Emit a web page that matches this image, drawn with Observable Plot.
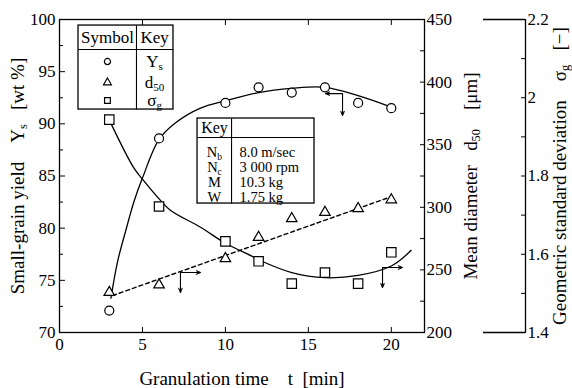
<!DOCTYPE html>
<html><head><meta charset="utf-8">
<script src="https://cdn.jsdelivr.net/npm/d3@7"></script>
<script src="https://cdn.jsdelivr.net/npm/@observablehq/plot@0.6"></script>
<style>
body{margin:0;background:#fff}
#chart svg{display:block;font-family:"Liberation Serif","DejaVu Serif",serif !important}
#chart svg text{font-family:"Liberation Serif","DejaVu Serif",serif !important}
</style></head><body><div id="chart"></div>
<script>
// measured points
const times = [3, 6, 10, 12, 14, 16, 18, 20];
const yieldYs = [72.1, 88.6, 92.0, 93.5, 93.0, 93.5, 92.0, 91.5];
const diameterD50 = [232, 238, 259, 276, 291, 296, 299, 306];
const sigmaG = [1.944, 1.722, 1.633, 1.582, 1.525, 1.553, 1.525, 1.605];

// fitted curves
const ysCurveT = [3.1, 3.5, 4, 4.5, 5, 6, 7, 8.5, 10, 12, 14, 16, 18, 20];
const ysCurveV = [73.3, 76.8, 79.8, 82.6, 84.8, 88.5, 90.1, 91.5, 92.2, 93.0, 93.4, 93.5, 92.7, 91.6];
const d50LineT = [3.2, 20];
const d50LineV = [229.5, 308.5];
const sgCurveT = [3.07, 4.46, 5, 6.1, 6.7, 8.5, 10, 11.5, 12, 14, 16, 18, 20, 21.2];
const sgCurveV = [1.937, 1.822, 1.792, 1.737, 1.712, 1.669, 1.628, 1.597, 1.586, 1.553, 1.540, 1.546, 1.570, 1.610];

// ticks
const xTicks = [0, 5, 10, 15, 20];
const xTopTicks = [5, 10, 15, 20];
const ysTicks = [70, 75, 80, 85, 90, 95, 100];
const ysMinor = [72.5, 77.5, 82.5, 87.5, 92.5, 97.5];
const d50Ticks = [200, 250, 300, 350, 400, 450];
const d50Minor = [225, 275, 325, 375, 425];
const sgTicks = [1.4, 1.6, 1.8, 2.0, 2.2];
const sgMinor = [1.5, 1.7, 1.9, 2.1];

// legend / key texts
const legendSymbols = ["circle", "triangle", "square"];
const legendKeys = ["Y_s", "d_50", "σ_g"];
const keyParams = ["N_b", "N_c", "M", "W"];
const keyValues = ["8.0 m/sec", "3 000 rpm", "10.3 kg", "1.75 kg"];

// titles
const NB = "\u00a0";
const xTitle = "Granulation time" + NB.repeat(4) + "t" + NB.repeat(2) + "[min]";
const ysTitle = "Small-grain yield" + NB.repeat(4) + "Y_s" + NB.repeat(3) + "[wt %]";
const d50Title = "Mean diameter" + NB.repeat(3) + "d_50" + NB.repeat(4) + "[μm]";
const sgTitle = "Geometric standard deviation" + NB.repeat(4) + "σ_g" + NB.repeat(3) + "[−]";

// secondary scales mapped onto the primary (Ys) scale
const fromD50 = d => 70 + (d - 200) * 30 / 250;
const toD50 = v => 200 + (v - 70) * 250 / 30;
const fromSg = s => 70 + (s - 1.4) * 30 / 0.8;
const toSg = v => 1.4 + (v - 70) * 0.8 / 30;

const rows = times.map((t, i) => ({t, ys: yieldYs[i], d: diameterD50[i], s: sigmaG[i]}));
const ysCurve = ysCurveT.map((t, i) => ({t, v: ysCurveV[i]}));
const d50Line = d50LineT.map((t, i) => ({t, v: fromD50(d50LineV[i])}));
const sgCurve = sgCurveT.map((t, i) => ({t, v: fromSg(sgCurveV[i])}));

// annotation layout in data coordinates (t, Ys)
const box1 = {x1: 1.145, x2: 6.87, y1: 91.37, y2: 99.42, head: 97.12, div: 4.64, symX: 2.89, keyX: 5.73, headY: 98.25, rowsY: [95.97, 93.96, 92.24]};
const box2 = {x1: 8.32, x2: 15.37, y1: 82.36, y2: 90.51, head: 88.69, div: 10.37, labX: 9.34, valX: 10.85, headY: 89.62, rowsY: [87.3, 85.85, 84.4, 83.0]};
const arrows = [
  {x1: 17.06, y1: 92.9, x2: 16.03, y2: 92.9},
  {x1: 17.06, y1: 92.9, x2: 17.06, y2: 90.8},
  {x1: 7.29, y1: 75.75, x2: 8.5, y2: 75.75},
  {x1: 7.29, y1: 75.75, x2: 7.29, y2: 73.84},
  {x1: 19.47, y1: 76.23, x2: 20.67, y2: 76.23},
  {x1: 19.47, y1: 76.23, x2: 19.47, y2: 74.31}
];

const FONT = "'Liberation Serif', 'DejaVu Serif', serif";
const fmtSg = v => String(+toSg(v).toFixed(1));

const plot = Plot.plot({
  width: 572, height: 388,
  marginLeft: 59, marginRight: 148, marginTop: 19, marginBottom: 56,
  style: {fontFamily: FONT, fontSize: "17px", color: "black", background: "white"},
  x: {domain: [0, 22]},
  y: {domain: [70, 100]},
  marks: [
    Plot.frame({stroke: "black", strokeWidth: 1.3}),
    // bottom axis
    Plot.axisX(xTicks, {anchor: "bottom", tickSize: -5, tickPadding: 10, label: null, fontSize: 17}),
    Plot.axisX(xTopTicks, {anchor: "top", tickSize: -5, fill: "none", label: null}),
    // left axis
    Plot.axisY(ysTicks, {anchor: "left", tickSize: -6, tickPadding: 10, label: null, fontSize: 17}),
    Plot.axisY(ysMinor, {anchor: "left", tickSize: -4, fill: "none", label: null}),
    // d50 axis
    Plot.axisY(d50Ticks.map(fromD50), {anchor: "right", tickSize: -5, tickPadding: 7, label: null, fontSize: 17, tickFormat: v => String(Math.round(toD50(v)))}),
    Plot.axisY(d50Minor.map(fromD50), {anchor: "right", tickSize: -5, fill: "none", label: null}),
    // sigma_g axis
    Plot.ruleX([22], {dx: 101, strokeWidth: 1.3}),
    Plot.ruleY([fromSg(2.2), fromSg(1.4)], {dx: 101, insetLeft: 323, strokeWidth: 1.3}),
    Plot.axisY(sgTicks.map(fromSg), {anchor: "right", dx: 101, tickSize: -5, tickPadding: 7, label: null, fontSize: 17, tickFormat: fmtSg}),
    Plot.axisY(sgMinor.map(fromSg), {anchor: "right", dx: 101, tickSize: -5, fill: "none", label: null}),
    // titles
    Plot.text([xTitle], {frameAnchor: "bottom", dy: 46, fontSize: 19, lineAnchor: "middle", textAnchor: "middle"}),
    Plot.text([ysTitle], {frameAnchor: "left", dx: -42, rotate: -90, fontSize: 19, lineAnchor: "middle", textAnchor: "middle"}),
    Plot.text([d50Title], {frameAnchor: "right", dx: 46, rotate: -90, fontSize: 19, lineAnchor: "middle", textAnchor: "middle"}),
    Plot.text([sgTitle], {frameAnchor: "right", dx: 135, rotate: -90, fontSize: 19, lineAnchor: "middle", textAnchor: "middle"}),
    // curves
    Plot.line(ysCurve, {x: "t", y: "v", curve: "catmull-rom", stroke: "black", strokeWidth: 1.3}),
    Plot.line(d50Line, {x: "t", y: "v", stroke: "black", strokeWidth: 1.4, strokeDasharray: "4,3"}),
    Plot.line(sgCurve, {x: "t", y: "v", curve: "catmull-rom", stroke: "black", strokeWidth: 1.3}),
    // arrows
    Plot.arrow(arrows, {x1: "x1", y1: "y1", x2: "x2", y2: "y2", stroke: "black", strokeWidth: 1.1, headLength: 6, headAngle: 45}),
    // points
    Plot.dot(rows, {x: "t", y: "ys", symbol: "circle", r: 4.5, stroke: "black", fill: "white", strokeWidth: 1.2}),
    Plot.dot(rows, {x: "t", y: d => fromD50(d.d), symbol: "triangle", r: 3.9, stroke: "black", fill: "white", strokeWidth: 1.2}),
    Plot.dot(rows, {x: "t", y: d => fromSg(d.s), symbol: "square", r: 5.3, stroke: "black", fill: "white", strokeWidth: 1.2}),
    // legend box 1
    Plot.rect([box1], {x1: "x1", x2: "x2", y1: "y1", y2: "y2", fill: "white", stroke: "black", strokeWidth: 1.3}),
    Plot.link([box1], {x1: "x1", x2: "x2", y1: "head", y2: "head", stroke: "black", strokeWidth: 1.1}),
    Plot.link([box1], {x1: "div", x2: "div", y1: "y1", y2: "y2", stroke: "black", strokeWidth: 1.1}),
    Plot.text(["Symbol"], {x: box1.symX, y: box1.headY, fontSize: 17}),
    Plot.text(["Key"], {x: box1.keyX, y: box1.headY, fontSize: 17}),
    Plot.dot(legendSymbols, {x: box1.symX, y: (d, i) => box1.rowsY[i], symbol: d => d, r: d => d === "square" ? 4.8 : d === "triangle" ? 3.9 : 4.3, stroke: "black", fill: "white", strokeWidth: 1.2}),
    Plot.text(legendKeys, {x: box1.keyX, y: (d, i) => box1.rowsY[i], fontSize: 17}),
    // legend box 2
    Plot.rect([box2], {x1: "x1", x2: "x2", y1: "y1", y2: "y2", fill: "white", stroke: "black", strokeWidth: 1.3}),
    Plot.link([box2], {x1: "x1", x2: "x2", y1: "head", y2: "head", stroke: "black", strokeWidth: 1.1}),
    Plot.link([box2], {x1: "div", x2: "div", y1: "y1", y2: "y2", stroke: "black", strokeWidth: 1.1}),
    Plot.text(["Key"], {x: box2.labX, y: box2.headY, fontSize: 16}),
    Plot.text(keyParams, {x: box2.labX, y: (d, i) => box2.rowsY[i], fontSize: 14.5}),
    Plot.text(keyValues, {x: box2.valX, y: (d, i) => box2.rowsY[i], fontSize: 14.5, textAnchor: "start"})
  ]
});

// subscripts: "X_ab" -> X with subscript ab
d3.select(plot).selectAll("text").each(function() {
  const s = this.textContent;
  if (!s.includes("_")) return;
  const parts = s.split(/(_[A-Za-z0-9]+)/);
  this.textContent = "";
  let shifted = false;
  for (const p of parts) {
    if (!p) continue;
    const ts = d3.select(this).append("tspan");
    if (p.startsWith("_")) {
      ts.text(p.slice(1)).attr("dy", 3).attr("font-size", "0.65em");
      shifted = true;
    } else {
      ts.text(p);
      if (shifted) { ts.attr("dy", -3); shifted = false; }
    }
  }
});

document.getElementById("chart").append(plot);
</script>
</body></html>
